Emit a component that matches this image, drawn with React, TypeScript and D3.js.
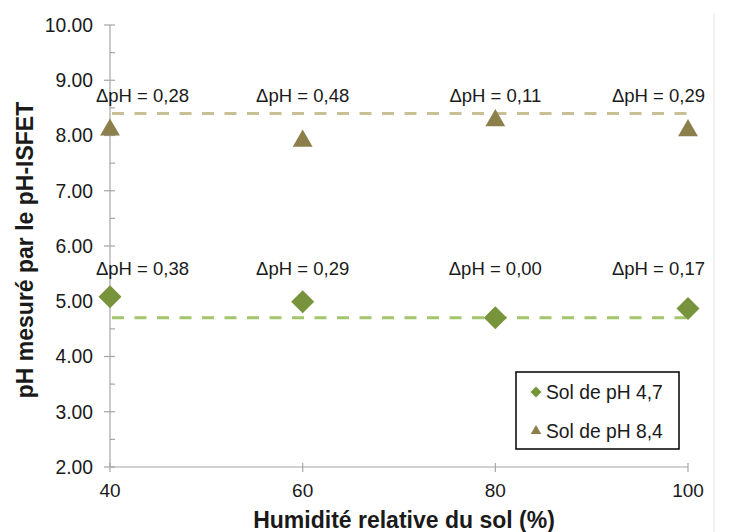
import React from "react";
import * as d3 from "d3";

const humidity = [40, 60, 80, 100];
const ph47Values = [5.08, 4.99, 4.7, 4.87];
const ph84Values = [8.12, 7.92, 8.29, 8.11];
const ph47Labels = ["ΔpH = 0,38", "ΔpH = 0,29", "ΔpH = 0,00", "ΔpH = 0,17"];
const ph84Labels = ["ΔpH = 0,28", "ΔpH = 0,48", "ΔpH = 0,11", "ΔpH = 0,29"];
const ph47Ref = 4.7;
const ph84Ref = 8.4;
const yTicks = [2, 3, 4, 5, 6, 7, 8, 9, 10];
const yMinorTicks = [2.5, 3.5, 4.5, 5.5, 6.5, 7.5, 8.5, 9.5];
const xTicks = [40, 60, 80, 100];
const seriesNames = ["Sol de pH 4,7", "Sol de pH 8,4"];

const W = 735;
const H = 532;
const FONT = "Liberation Sans, Arial, sans-serif";
const GREEN = "#77933c";
const TAN = "#8c7f4c";
const GREEN_LINE = "#a3c66c";
const TAN_LINE = "#c9c096";

const diamondPath = (r: number) => {
  const p = d3.path();
  p.moveTo(0, -r);
  p.lineTo(r, 0);
  p.lineTo(0, r);
  p.lineTo(-r, 0);
  p.closePath();
  return p.toString();
};

export default function App() {
  const x = d3.scaleLinear().domain([40, 100]).range([110, 688]);
  const y = d3.scaleLinear().domain([2, 10]).range([467, 25]);

  const diamond = diamondPath(11.5);
  const triangle = d3.symbol().type(d3.symbolTriangle).size(170)();
  const diamondSmall = diamondPath(5.5);
  const triangleSmall = d3.symbol().type(d3.symbolTriangle).size(48)();

  const labelX = (v: number, text: string) => {
    const w = text.length * 9.3;
    let cx = x(v);
    cx = Math.max(96 + w / 2, Math.min(705 - w / 2, cx));
    return cx;
  };

  return (
    <svg
      width={W}
      height={H}
      style={{ position: "absolute", left: 0, top: 0, background: "#fff" }}
      fontFamily={FONT}
    >
      <line x1={714} x2={714} y1={13} y2={H} stroke="#e4e4e4" strokeWidth={1} />

      {/* Axes */}
      <line x1={x(40)} x2={x(40)} y1={y(10)} y2={y(2)} stroke="#a6a6a6" strokeWidth={1.2} />
      <line x1={x(40)} x2={x(100)} y1={y(2)} y2={y(2)} stroke="#a6a6a6" strokeWidth={1.2} />
      {yTicks.map((t) => (
        <g key={"yt" + t}>
          <line x1={x(40) - 6} x2={x(40) + 5} y1={y(t)} y2={y(t)} stroke="#a6a6a6" strokeWidth={1.2} />
          <text x={93} y={y(t)} dy="0.35em" textAnchor="end" fontSize={19.3} fill="#1a1a1a">
            {t.toFixed(2)}
          </text>
        </g>
      ))}
      {yMinorTicks.map((t) => (
        <line key={"ym" + t} x1={x(40)} x2={x(40) + 5} y1={y(t)} y2={y(t)} stroke="#a6a6a6" strokeWidth={1.2} />
      ))}
      {xTicks.map((t) => (
        <g key={"xt" + t}>
          <line x1={x(t)} x2={x(t)} y1={y(2) - 4} y2={y(2) + 5} stroke="#a6a6a6" strokeWidth={1.2} />
          <text x={x(t)} y={497} textAnchor="middle" fontSize={19} fill="#1a1a1a">
            {t}
          </text>
        </g>
      ))}

      {/* Axis titles */}
      <text x={404} y={528} textAnchor="middle" fontSize={23} fontWeight="bold" fill="#1a1a1a">
        Humidité relative du sol (%)
      </text>
      <text
        transform={`translate(33,250) rotate(-90)`}
        textAnchor="middle"
        fontSize={23}
        fontWeight="bold"
        fill="#1a1a1a"
      >
        pH mesuré par le pH-ISFET
      </text>

      {/* Reference dashed lines */}
      <line
        x1={x(40)}
        x2={x(100)}
        y1={y(ph84Ref)}
        y2={y(ph84Ref)}
        stroke={TAN_LINE}
        strokeWidth={3}
        strokeDasharray="12 10.5"
        strokeDashoffset={-2}
      />
      <line
        x1={x(40)}
        x2={x(100)}
        y1={y(ph47Ref)}
        y2={y(ph47Ref)}
        stroke={GREEN_LINE}
        strokeWidth={3}
        strokeDasharray="12 10.5"
        strokeDashoffset={-2}
      />

      {/* Markers */}
      {humidity.map((h, i) => (
        <path key={"d" + i} d={diamond} transform={`translate(${x(h)},${y(ph47Values[i])})`} fill={GREEN} />
      ))}
      {humidity.map((h, i) => (
        <path key={"t" + i} d={triangle!} transform={`translate(${x(h)},${y(ph84Values[i]) + 1})`} fill={TAN} />
      ))}

      {/* Labels */}
      {humidity.map((h, i) => (
        <text key={"l84" + i} x={labelX(h, ph84Labels[i])} y={102} textAnchor="middle" fontSize={18.5} fill="#1a1a1a">
          {ph84Labels[i]}
        </text>
      ))}
      {humidity.map((h, i) => (
        <text key={"l47" + i} x={labelX(h, ph47Labels[i])} y={275} textAnchor="middle" fontSize={18.5} fill="#1a1a1a">
          {ph47Labels[i]}
        </text>
      ))}

      {/* Legend */}
      <rect x={516} y={372} width={163} height={77} fill="#fff" stroke="#000" strokeWidth={1.5} />
      <path d={diamondSmall} transform="translate(536,392)" fill={GREEN} />
      <text x={546} y={392} dy="0.35em" fontSize={19.3} fill="#1a1a1a">
        {seriesNames[0]}
      </text>
      <path d={triangleSmall!} transform="translate(536,431)" fill={TAN} />
      <text x={546} y={431} dy="0.35em" fontSize={19.3} fill="#1a1a1a">
        {seriesNames[1]}
      </text>
    </svg>
  );
}
